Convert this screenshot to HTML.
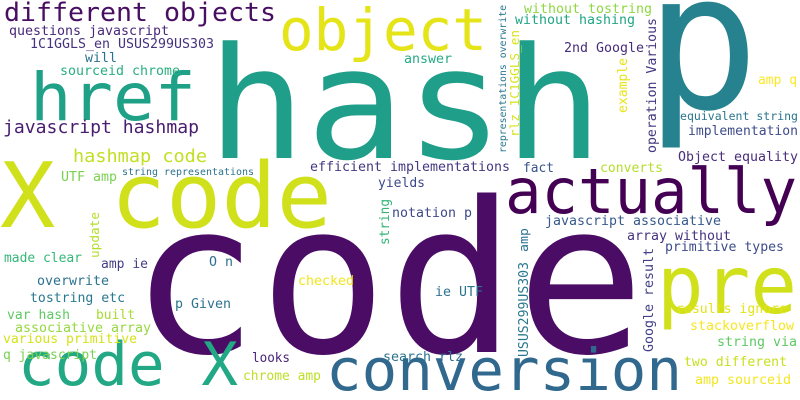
<!DOCTYPE html>
<html><head><meta charset="utf-8"><style>
html,body{margin:0;padding:0;background:#fff;}
svg{display:block;}
text{font-family:"DejaVu Sans Mono","Liberation Mono",monospace;}
</style></head><body>
<svg width="800" height="400" viewBox="0 0 800 400" xmlns="http://www.w3.org/2000/svg">
<rect width="800" height="400" fill="#fff"/>
<g>
<text x="207" y="158" font-size="155" fill="#1f9e89" textLength="396" lengthAdjust="spacingAndGlyphs">hash</text>
<text x="645" y="108" font-size="190" fill="#26828e">p</text>
<text x="130" y="352" font-size="210" fill="#4a0c64" textLength="515" lengthAdjust="spacingAndGlyphs">code</text>
<text x="0" y="227" font-size="90" fill="#d0e11c" textLength="332" lengthAdjust="spacingAndGlyphs">X code</text>
<text x="505" y="213" font-size="62" fill="#440154" textLength="292" lengthAdjust="spacingAndGlyphs">actually</text>
<text x="657" y="313" font-size="80" fill="#d0e11c" textLength="140" lengthAdjust="spacingAndGlyphs">pre</text>
<text x="326" y="390" font-size="58" fill="#31688e" textLength="356" lengthAdjust="spacingAndGlyphs">conversion</text>
<text x="18" y="385" font-size="60" fill="#22a884" textLength="220" lengthAdjust="spacingAndGlyphs">code X</text>
<text x="279" y="50" font-size="58" fill="#e5e419" textLength="208" lengthAdjust="spacingAndGlyphs">object</text>
<text x="30" y="120" font-size="66" fill="#1fa187" textLength="166" lengthAdjust="spacingAndGlyphs">href</text>
<text x="4" y="21" font-size="26" fill="#470e61" textLength="272" lengthAdjust="spacingAndGlyphs">different objects</text>
<text x="9" y="35" font-size="13" fill="#482878" textLength="160" lengthAdjust="spacingAndGlyphs">questions javascript</text>
<text x="30" y="48" font-size="13" fill="#46327e" textLength="184" lengthAdjust="spacingAndGlyphs">1C1GGLS_en USUS299US303</text>
<text x="85" y="62" font-size="13" fill="#2c728e" textLength="32" lengthAdjust="spacingAndGlyphs">will</text>
<text x="60" y="75" font-size="13" fill="#29af7f" textLength="120" lengthAdjust="spacingAndGlyphs">sourceid chrome</text>
<text x="3" y="133" font-size="18" fill="#481c6e" textLength="196" lengthAdjust="spacingAndGlyphs">javascript hashmap</text>
<text x="73" y="162" font-size="18" fill="#c2df23" textLength="134" lengthAdjust="spacingAndGlyphs">hashmap code</text>
<text x="61" y="181" font-size="13" fill="#7ad151" textLength="56" lengthAdjust="spacingAndGlyphs">UTF amp</text>
<text x="122" y="175" font-size="10" fill="#2c738e" textLength="132" lengthAdjust="spacingAndGlyphs">string representations</text>
<text x="310" y="171" font-size="13" fill="#443983" textLength="200" lengthAdjust="spacingAndGlyphs">efficient implementations</text>
<text x="378" y="187" font-size="13" fill="#3e4989" textLength="47" lengthAdjust="spacingAndGlyphs">yields</text>
<text x="404" y="63" font-size="13" fill="#25ab82" textLength="48" lengthAdjust="spacingAndGlyphs">answer</text>
<text x="524" y="13" font-size="13" fill="#8fd744" textLength="128" lengthAdjust="spacingAndGlyphs">without tostring</text>
<text x="515" y="24" font-size="13" fill="#21a585" textLength="120" lengthAdjust="spacingAndGlyphs">without hashing</text>
<text x="564" y="52" font-size="13" fill="#472c7a" textLength="80" lengthAdjust="spacingAndGlyphs">2nd Google</text>
<text transform="translate(506,153) rotate(-90)" font-size="9.5" fill="#2a788e" textLength="148" lengthAdjust="spacingAndGlyphs">representations overwrite</text>
<text transform="translate(519,137) rotate(-90)" font-size="12.5" fill="#d8e219" textLength="107" lengthAdjust="spacingAndGlyphs">rlz 1C1GGLS_en</text>
<text transform="translate(627,113) rotate(-90)" font-size="13" fill="#e7e419" textLength="55" lengthAdjust="spacingAndGlyphs">example</text>
<text transform="translate(656,153) rotate(-90)" font-size="13" fill="#453781" textLength="135" lengthAdjust="spacingAndGlyphs">operation Various</text>
<text x="758" y="84" font-size="13" fill="#fde725" textLength="39" lengthAdjust="spacingAndGlyphs">amp q</text>
<text x="680" y="120" font-size="11.5" fill="#2a768e" textLength="118" lengthAdjust="spacingAndGlyphs">equivalent string</text>
<text x="688" y="135" font-size="13" fill="#3e4c8a" textLength="110" lengthAdjust="spacingAndGlyphs">implementation</text>
<text x="678" y="161" font-size="13" fill="#472d7b" textLength="120" lengthAdjust="spacingAndGlyphs">Object equality</text>
<text x="523" y="172" font-size="13" fill="#3b528b" textLength="31" lengthAdjust="spacingAndGlyphs">fact</text>
<text x="600" y="172" font-size="13" fill="#b5de2b" textLength="63" lengthAdjust="spacingAndGlyphs">converts</text>
<text transform="translate(99,258) rotate(-90)" font-size="12.5" fill="#b5de2b" textLength="46" lengthAdjust="spacingAndGlyphs">update</text>
<text x="4" y="262" font-size="13" fill="#35b779" textLength="78" lengthAdjust="spacingAndGlyphs">made clear</text>
<text x="101" y="268" font-size="13" fill="#433e85" textLength="47" lengthAdjust="spacingAndGlyphs">amp ie</text>
<text x="209" y="266" font-size="13" fill="#2d708e" textLength="24" lengthAdjust="spacingAndGlyphs">O n</text>
<text x="37" y="285" font-size="13" fill="#2c728e" textLength="72" lengthAdjust="spacingAndGlyphs">overwrite</text>
<text x="298" y="285" font-size="13" fill="#f1e51d" textLength="56" lengthAdjust="spacingAndGlyphs">checked</text>
<text x="30" y="302" font-size="13" fill="#2a788e" textLength="95" lengthAdjust="spacingAndGlyphs">tostring etc</text>
<text x="175" y="308" font-size="13" fill="#2c728e" textLength="56" lengthAdjust="spacingAndGlyphs">p Given</text>
<text x="7" y="319" font-size="13" fill="#5ec962" textLength="63" lengthAdjust="spacingAndGlyphs">var hash</text>
<text x="96" y="319" font-size="13" fill="#a8db34" textLength="39" lengthAdjust="spacingAndGlyphs">built</text>
<text x="15" y="332" font-size="13" fill="#95d840" textLength="136" lengthAdjust="spacingAndGlyphs">associative array</text>
<text x="3" y="343" font-size="13" fill="#d5e21a" textLength="134" lengthAdjust="spacingAndGlyphs">various primitive</text>
<text x="3" y="359" font-size="13" fill="#7ad151" textLength="94" lengthAdjust="spacingAndGlyphs">q javascript</text>
<text x="252" y="362" font-size="13" fill="#482576" textLength="38" lengthAdjust="spacingAndGlyphs">looks</text>
<text x="243" y="380" font-size="13" fill="#bddf26" textLength="78" lengthAdjust="spacingAndGlyphs">chrome amp</text>
<text transform="translate(389,245) rotate(-90)" font-size="13" fill="#34b679" textLength="46" lengthAdjust="spacingAndGlyphs">string</text>
<text x="392" y="217" font-size="13" fill="#3e4a89" textLength="80" lengthAdjust="spacingAndGlyphs">notation p</text>
<text x="545" y="225" font-size="13" fill="#375a8c" textLength="176" lengthAdjust="spacingAndGlyphs">javascript associative</text>
<text transform="translate(528,252) rotate(-90)" font-size="12" fill="#2d718e" textLength="24" lengthAdjust="spacingAndGlyphs">amp</text>
<text transform="translate(528,357) rotate(-90)" font-size="13" fill="#2a788e" textLength="95" lengthAdjust="spacingAndGlyphs">USUS299US303</text>
<text x="627" y="240" font-size="13" fill="#46337f" textLength="104" lengthAdjust="spacingAndGlyphs">array without</text>
<text x="665" y="251" font-size="13" fill="#3e4c8a" textLength="119" lengthAdjust="spacingAndGlyphs">primitive types</text>
<text x="435" y="296" font-size="13" fill="#2c738e" textLength="48" lengthAdjust="spacingAndGlyphs">ie UTF</text>
<text transform="translate(653,352) rotate(-90)" font-size="13" fill="#423f85" textLength="104" lengthAdjust="spacingAndGlyphs">Google result</text>
<text x="676" y="313" font-size="13" fill="#e2e418" textLength="111" lengthAdjust="spacingAndGlyphs">results ignore</text>
<text x="690" y="330" font-size="13" fill="#f8e621" textLength="104" lengthAdjust="spacingAndGlyphs">stackoverflow</text>
<text x="717" y="346" font-size="13" fill="#5ec962" textLength="80" lengthAdjust="spacingAndGlyphs">string via</text>
<text x="383" y="361" font-size="13" fill="#2c728e" textLength="80" lengthAdjust="spacingAndGlyphs">search rlz</text>
<text x="684" y="366" font-size="13" fill="#c8e020" textLength="103" lengthAdjust="spacingAndGlyphs">two different</text>
<text x="695" y="384" font-size="13" fill="#f4e61e" textLength="96" lengthAdjust="spacingAndGlyphs">amp sourceid</text>
</g>
</svg>
</body></html>
